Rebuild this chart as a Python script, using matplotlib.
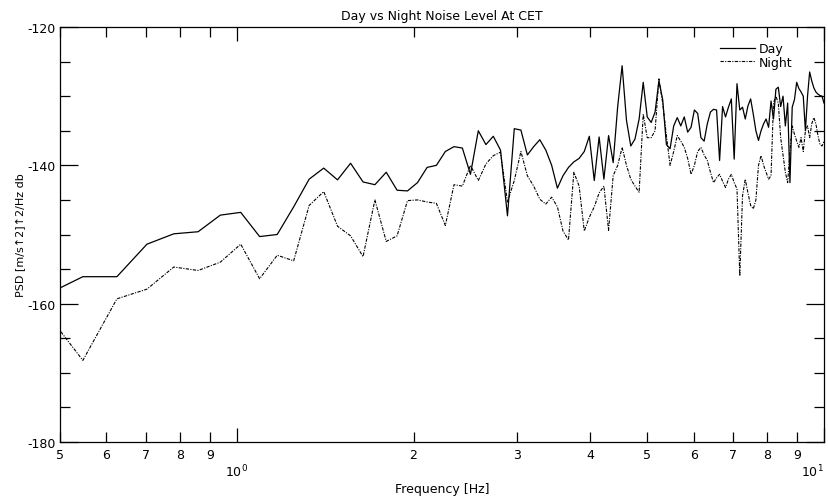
import numpy as np
import matplotlib
matplotlib.use("Agg")
import matplotlib.pyplot as plt
from matplotlib.ticker import FixedLocator, FixedFormatter

# frequency bins (df = 0.078125 Hz), bins 6..128
freq = np.arange(6, 129) * 0.078125

day = [
    -158.9, -156.1, -156.1, -151.4, -149.9, -149.6, -147.2, -146.8, -150.3, -150.0,   # k6-15
    -146.0, -142.0, -140.4, -142.1, -139.7, -142.4, -142.8, -141.0, -143.6, -143.7,   # k16-25
    -142.5, -140.3, -140.0, -138.0, -137.3, -137.5, -141.3, -135.0, -137.0, -135.8,   # k26-35
    -137.8, -147.3, -134.7, -134.9, -138.5, -137.3, -136.3, -137.8, -140.0, -143.3,   # k36-45
    -141.5, -140.3, -139.5, -139.0, -138.0, -135.8, -142.2, -135.9, -142.0, -135.7,   # k46-55
    -139.6, -131.5, -125.6, -133.5, -137.2, -136.2, -133.3, -128.0, -133.0, -133.8,   # k56-65
    -132.3, -127.8, -130.5, -137.0, -137.6, -134.3, -133.1, -134.3, -133.0, -135.2,   # k66-75
    -134.5, -132.0, -132.5, -136.0, -136.5, -134.0, -132.3, -131.9, -132.0, -139.3,   # k76-85
    -131.5, -133.0, -131.6, -130.4, -139.1, -128.2, -132.0, -131.6, -133.3, -131.4,   # k86-95
    -130.4, -132.6, -135.0, -136.4, -135.0, -134.0, -133.3, -134.5, -130.7, -133.3,   # k96-105
    -129.0, -128.7, -131.5, -130.0, -134.3, -131.0, -142.5, -131.6, -130.5, -128.0,   # k106-115
    -128.9, -129.4, -130.0, -135.0, -130.0, -126.5, -127.8, -128.8, -129.4, -129.7,   # k116-125
    -129.9, -130.0, -131.0,                                                           # k126-128
]

night = [
    -160.8, -168.2, -159.3, -157.9, -154.7, -155.2, -154.0, -151.4, -156.4, -153.0,   # k6-15
    -153.8, -145.8, -143.8, -148.8, -150.2, -153.2, -145.0, -151.0, -150.2, -145.1,   # k16-25
    -145.0, -145.3, -145.5, -148.7, -142.8, -143.0, -140.0, -142.2, -139.8, -138.6,   # k26-35
    -138.1, -145.3, -142.2, -138.0, -141.5, -143.0, -144.9, -145.6, -144.6, -146.0,   # k36-45
    -149.5, -150.8, -141.0, -143.0, -149.5, -147.5, -146.0, -144.0, -143.0, -149.4,   # k46-55
    -141.5, -140.0, -137.4, -140.0, -142.0, -143.0, -143.9, -132.6, -136.0, -136.0,   # k56-65
    -135.0, -127.5, -131.0, -135.7, -140.0, -138.0, -135.7, -136.5, -137.4, -139.0,   # k66-75
    -141.3, -140.0, -138.0, -137.4, -138.5, -139.3, -141.0, -142.5, -141.8, -141.3,   # k76-85
    -142.3, -143.2, -142.0, -141.3, -142.5, -143.4, -156.0, -144.4, -142.0, -144.0,   # k86-95
    -145.8, -146.3, -145.0, -140.0, -138.6, -140.0, -141.0, -142.0, -141.5, -131.0,   # k96-105
    -130.0, -131.0, -136.0, -138.5, -141.0, -142.5, -138.0, -134.3, -135.5, -136.5,   # k106-115
    -137.4, -136.0, -138.0, -135.0, -134.3, -136.0, -134.0, -133.1, -134.0, -135.7,   # k116-125
    -137.0, -137.2, -136.5,                                                           # k126-128
]

minor_pos = [0.5, 0.6, 0.7, 0.8, 0.9, 2, 3, 4, 5, 6, 7, 8, 9]
minor_lab = ["5", "6", "7", "8", "9", "2", "3", "4", "5", "6", "7", "8", "9"]
major_pos = [1, 10]
major_lab = ["$10^0$", "$10^1$"]
y_major = [-180, -160, -140, -120]
y_minor = [-175, -170, -165, -155, -150, -145, -135, -130, -125]

plt.rcParams["font.family"] = ["DejaVu Sans"]
plt.rcParams["axes.unicode_minus"] = False

fig = plt.figure(figsize=(8.29, 5.02), dpi=100)
ax = fig.add_axes([60/829, 59/502, 764/829, 415/502])

ax.plot(freq, day, color="black", lw=0.9, label="Day")
ax.plot(freq, night, color="black", lw=0.8, linestyle=(0, (3, 1.2, 1, 1.2)), label="Night")

ax.set_xscale("log")
ax.set_xlim(0.5, 10)
ax.set_ylim(-180, -120)

ax.xaxis.set_major_locator(FixedLocator(major_pos))
ax.xaxis.set_major_formatter(FixedFormatter(major_lab))
ax.xaxis.set_minor_locator(FixedLocator(minor_pos))
ax.xaxis.set_minor_formatter(FixedFormatter(minor_lab))
ax.yaxis.set_major_locator(FixedLocator(y_major))
ax.yaxis.set_minor_locator(FixedLocator(y_minor))

ax.tick_params(which="both", direction="in", top=True, right=True,
               labelsize=9, width=0.9, color="black")
ax.tick_params(axis="x", which="major", length=10, pad=15)
ax.tick_params(axis="x", which="minor", length=7, pad=4)
ax.tick_params(axis="y", which="major", length=13, pad=3)
ax.tick_params(axis="y", which="minor", length=7)

for s in ax.spines.values():
    s.set_linewidth(0.9)

ax.set_title("Day vs Night Noise Level At CET", fontsize=9, pad=6)
ax.set_xlabel("Frequency [Hz]", fontsize=9, labelpad=2)
ax.set_ylabel("PSD [m/s↑2]↑2/Hz db", fontsize=8, labelpad=2)

leg = ax.legend(loc="upper right", bbox_to_anchor=(0.97, 0.985), frameon=False,
                fontsize=9, handlelength=2.8, handletextpad=0.3,
                labelspacing=0.05, borderpad=0.2)

fig.canvas.draw()
majlabels = ax.xaxis.get_majorticklabels()
if len(majlabels) >= 2:
    majlabels[-1].set_horizontalalignment("right")

fig.savefig("out.png", dpi=100)
